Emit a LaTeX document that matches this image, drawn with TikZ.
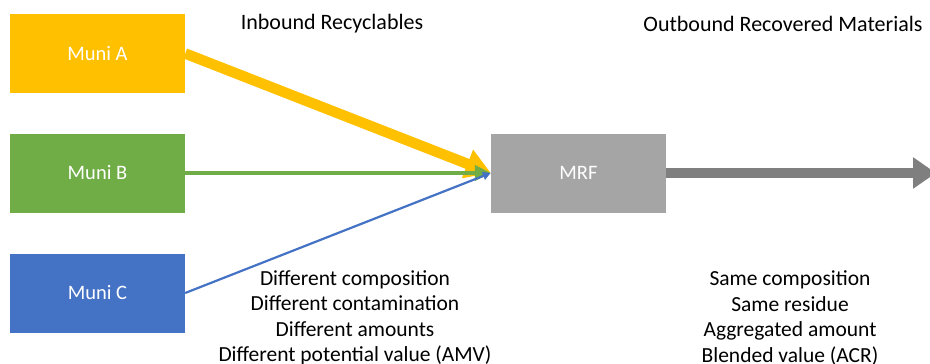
\documentclass[tikz,border=0pt]{standalone}
\usepackage{fontspec}
\setmainfont{Carlito}
\usepackage{tikz}
\usetikzlibrary{positioning,arrows.meta}

\definecolor{muniA}{HTML}{FFC000}
\definecolor{muniB}{HTML}{70AD47}
\definecolor{muniC}{HTML}{4472C4}
\definecolor{mrfgray}{HTML}{A5A5A5}
\definecolor{outgray}{HTML}{7F7F7F}

\begin{document}
\begin{tikzpicture}[%
	x=1pt, y=-1pt,
	>=Triangle,
	box/.style={rectangle, minimum width=175pt, minimum height=79pt,
		inner sep=0pt, text=white, font=\fontsize{20.5}{24}\selectfont},
	caption/.style={font=\fontsize{22}{26}\selectfont},
	notes/.style={align=center, font=\fontsize{21.5}{25.5}\selectfont},
	flowA/.style={->, muniA, line width=10.5pt, -{Triangle[length=25pt,width=29pt]}},
	flowB/.style={->, muniB, line width=4pt, -{Triangle[length=16pt,width=15pt]}},
	flowC/.style={->, muniC, line width=2.2pt, -{Triangle[length=8pt,width=8pt]}},
	flowout/.style={->, outgray, line width=10pt, -{Triangle[length=23pt,width=30pt]}}
	]
	\useasboundingbox (0,0) rectangle (930,364);
	
	% sources
	\node[box, fill=muniA] (A) at (97.5,53.5) {Muni A};
	\node[box, fill=muniB] (B) at (97.5,173) {Muni B};
	\node[box, fill=muniC] (C) at (97.5,293) {Muni C};
	
	% facility
	\node[box, fill=mrfgray] (mrf) at (578.5,173) {MRF};
	\coordinate (out) at (936,173);
	
	% headings
	\node[caption] (inb) at (332,23.5) {Inbound Recyclables};
	\node[caption] (outb) at (783,23.5) {Outbound Recovered Materials};
	
	% flows
	\draw[flowA] (A.east) -- (mrf.west);
	\draw[flowB] (B.east) -- (mrf.west);
	\draw[flowC] (C.east) -- (mrf.west);
	\draw[flowout] (mrf.east) -- (out);
	
	% properties
	\node[notes] (diff) at (355,318) {Different composition\\Different contamination\\Different amounts\\Different potential value (AMV)};
	\node[notes] (same) at (790,318) {Same composition\\Same residue\\Aggregated amount\\Blended value (ACR)};
\end{tikzpicture}
\end{document}
